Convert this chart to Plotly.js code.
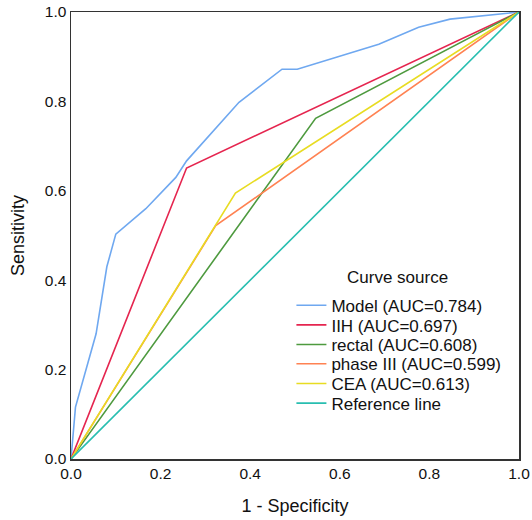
<!DOCTYPE html>
<html>
<head>
<meta charset="utf-8">
<script src="https://cdn.plot.ly/plotly-3.0.1.min.js"></script>
<style>
html,body{margin:0;padding:0;background:#fff;}
#chart{width:532px;height:520px;}
</style>
</head>
<body>
<div id="chart"></div>
<script>
// ROC curve data
const seriesNames = ["Model (AUC=0.784)", "IIH (AUC=0.697)", "rectal (AUC=0.608)", "phase III (AUC=0.599)", "CEA (AUC=0.613)", "Reference line"];
const legendTitle = "Curve source";

const modelFpr = [0, 0.010, 0.056, 0.080, 0.100, 0.167, 0.234, 0.258, 0.375, 0.471, 0.505, 0.687, 0.776, 0.846, 1];
const modelTpr = [0, 0.116, 0.280, 0.430, 0.503, 0.560, 0.630, 0.667, 0.798, 0.872, 0.872, 0.928, 0.966, 0.984, 1];

const iihFpr = [0, 0.258, 1];
const iihTpr = [0, 0.651, 1];

const rectalFpr = [0, 0.546, 1];
const rectalTpr = [0, 0.762, 1];

const phaseFpr = [0, 0.323, 1];
const phaseTpr = [0, 0.522, 1];

const ceaFpr = [0, 0.367, 1];
const ceaTpr = [0, 0.595, 1];

const refFpr = [0, 1];
const refTpr = [0, 1];

const tickVals = [0, 0.2, 0.4, 0.6, 0.8, 1.0];
const tickText = ["0.0", "0.2", "0.4", "0.6", "0.8", "1.0"];

const colors = ["#6FA8F0", "#E5254F", "#4E9A3F", "#FF8252", "#E8DC22", "#28BEB0"];

const xs = [modelFpr, iihFpr, rectalFpr, phaseFpr, ceaFpr, refFpr];
const ys = [modelTpr, iihTpr, rectalTpr, phaseTpr, ceaTpr, refTpr];

const fontFam = "Liberation Sans, Arial, sans-serif";
const legendIds = ["legend", "legend2", "legend3", "legend4", "legend5", "legend6"];

const traces = xs.map((x, i) => ({
  x: x, y: ys[i], type: "scatter", mode: "lines", name: seriesNames[i],
  legend: legendIds[i],
  line: {color: colors[i], width: 1.6}
}));

const axisBase = {
  range: [0, 1], tickvals: tickVals, ticktext: tickText,
  showgrid: false, zeroline: false, showline: true, mirror: true,
  linecolor: "#333", linewidth: 1.5, ticks: "",
  tickfont: {family: fontFam, size: 15.5, color: "#111"}
};

const layout = {
  width: 532, height: 520,
  margin: {l: 71, r: 13, t: 12, b: 61},
  paper_bgcolor: "#fff", plot_bgcolor: "#fff",
  font: {family: fontFam, color: "#111"},
  showlegend: true,
  xaxis: Object.assign({}, axisBase, {
    title: {text: "1 - Specificity", font: {family: fontFam, size: 18, color: "#111"}, standoff: 18}
  }),
  yaxis: Object.assign({}, axisBase, {
    title: {text: "Sensitivity", font: {family: fontFam, size: 18, color: "#111"}, standoff: 15}
  }),
  annotations: [{
    text: legendTitle, xref: "paper", yref: "paper", x: 0.729, y: 0.405,
    xanchor: "center", yanchor: "middle", showarrow: false,
    font: {family: fontFam, size: 17, color: "#111"}
  }]
};

// one legend row per series, spaced like the reference
const rowY = [0.343, 0.299, 0.255, 0.212, 0.168, 0.124];
legendIds.forEach((id, i) => {
  layout[id] = {
    x: 0.492, y: rowY[i], xanchor: "left", yanchor: "middle",
    bgcolor: "rgba(0,0,0,0)", borderwidth: 0,
    font: {family: fontFam, size: 17, color: "#111"}
  };
});

Plotly.newPlot("chart", traces, layout, {displayModeBar: false, staticPlot: true});
</script>
</body>
</html>
